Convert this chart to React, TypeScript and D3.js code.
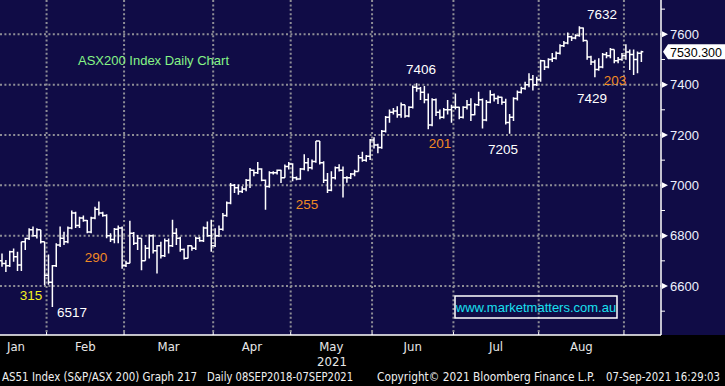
import React, { useEffect } from "react";
import * as d3 from "d3";

// [open, high, low, close] per trading day
type Bar = [number, number, number, number];

const monthNames = ["Jan", "Feb", "Mar", "Apr", "May", "Jun", "Jul", "Aug", "Sep"];

const jan: Bar[] = [
  [6700, 6729, 6676, 6689], [6689, 6703, 6656, 6680], [6680, 6740, 6675, 6736], [6736, 6749, 6696, 6716],
  [6716, 6736, 6660, 6683], [6683, 6776, 6660, 6776], [6776, 6792, 6743, 6789], [6789, 6829, 6783, 6823],
  [6823, 6836, 6796, 6800], [6800, 6829, 6789, 6823], [6823, 6823, 6769, 6776], [6776, 6776, 6603, 6643],
];
const feb: Bar[] = [
  [6643, 6725, 6605, 6615], [6615, 6683, 6517, 6680], [6680, 6770, 6675, 6763], [6763, 6836, 6755, 6790],
  [6790, 6816, 6763, 6776], [6776, 6836, 6770, 6830], [6830, 6900, 6825, 6890], [6890, 6895, 6830, 6840],
  [6840, 6875, 6830, 6870], [6870, 6880, 6855, 6860], [6860, 6862, 6810, 6815], [6815, 6875, 6810, 6870],
  [6870, 6915, 6865, 6905], [6905, 6936, 6880, 6890], [6890, 6895, 6875, 6880], [6880, 6885, 6790, 6800],
  [6800, 6810, 6775, 6785], [6785, 6830, 6770, 6825], [6825, 6840, 6770, 6830], [6830, 6836, 6669, 6680],
];
const mar: Bar[] = [
  [6680, 6700, 6675, 6690], [6690, 6859, 6690, 6810], [6810, 6815, 6763, 6770], [6770, 6803, 6743, 6790],
  [6790, 6790, 6663, 6700], [6700, 6763, 6700, 6750], [6750, 6805, 6709, 6800], [6800, 6805, 6729, 6740],
  [6740, 6763, 6650, 6760], [6760, 6776, 6709, 6720], [6720, 6789, 6715, 6780], [6780, 6789, 6729, 6760],
  [6760, 6863, 6755, 6810], [6810, 6829, 6763, 6790], [6790, 6796, 6736, 6745], [6745, 6749, 6705, 6710],
  [6710, 6763, 6709, 6760], [6760, 6760, 6740, 6750], [6750, 6796, 6743, 6790], [6790, 6796, 6776, 6780],
  [6780, 6836, 6775, 6830], [6830, 6856, 6796, 6800], [6800, 6863, 6736, 6760],
];
const apr: Bar[] = [
  [6760, 6829, 6755, 6800], [6800, 6840, 6795, 6825], [6825, 6890, 6820, 6880], [6880, 6936, 6875, 6930],
  [6930, 7009, 6925, 7000], [7000, 7005, 6969, 6990], [6990, 7003, 6963, 6975], [6975, 6996, 6969, 6985],
  [6985, 7025, 6976, 7020], [7020, 7069, 6989, 7060], [7060, 7063, 7036, 7050], [7050, 7093, 7045, 7065],
  [7065, 7068, 7016, 7020], [7020, 7023, 6903, 6995], [6995, 7056, 6990, 7050], [7050, 7056, 7043, 7050],
  [7050, 7063, 7043, 7060], [7060, 7062, 7009, 7030], [7030, 7083, 7030, 7075], [7075, 7093, 7063, 7085],
];
const may: Bar[] = [
  [7085, 7088, 7016, 7030], [7030, 7035, 7020, 7025], [7025, 7069, 7022, 7065], [7065, 7123, 7060, 7090],
  [7090, 7109, 7056, 7070], [7070, 7103, 7063, 7095], [7095, 7176, 7090, 7176], [7176, 7176, 7083, 7090],
  [7090, 7096, 7009, 7020], [7020, 7049, 6969, 6980], [6980, 7056, 6976, 7030], [7030, 7075, 7023, 7070],
  [7070, 7084, 7055, 7060], [7060, 7075, 6952, 7030], [7030, 7036, 7010, 7030], [7030, 7049, 7025, 7045],
  [7045, 7062, 7036, 7055], [7055, 7120, 7055, 7110], [7110, 7133, 7094, 7100], [7100, 7120, 7094, 7115],
  [7115, 7184, 7101, 7180],
];
const jun: Bar[] = [
  [7180, 7191, 7146, 7160], [7160, 7165, 7127, 7150], [7150, 7220, 7145, 7215], [7215, 7275, 7210, 7270],
  [7270, 7301, 7249, 7290], [7290, 7307, 7281, 7295], [7295, 7314, 7268, 7280], [7280, 7329, 7268, 7320],
  [7320, 7320, 7268, 7275], [7275, 7314, 7270, 7310], [7310, 7397, 7305, 7390], [7390, 7406, 7372, 7385],
  [7385, 7391, 7339, 7370], [7370, 7395, 7326, 7340], [7340, 7365, 7223, 7240], [7240, 7346, 7235, 7340],
  [7340, 7345, 7275, 7290], [7290, 7301, 7262, 7270], [7270, 7307, 7265, 7300], [7300, 7339, 7281, 7300],
  [7300, 7320, 7249, 7310],
];
const jul: Bar[] = [
  [7310, 7365, 7301, 7310], [7310, 7312, 7262, 7270], [7270, 7314, 7265, 7310], [7310, 7339, 7301, 7320],
  [7320, 7346, 7256, 7280], [7280, 7326, 7278, 7320], [7320, 7372, 7315, 7340], [7340, 7345, 7226, 7260],
  [7260, 7339, 7255, 7330], [7330, 7378, 7326, 7360], [7360, 7365, 7333, 7345], [7345, 7357, 7323, 7350],
  [7350, 7352, 7320, 7330], [7330, 7344, 7242, 7250], [7250, 7283, 7205, 7270], [7270, 7350, 7256, 7345],
  [7345, 7377, 7337, 7370], [7370, 7392, 7365, 7385], [7385, 7411, 7380, 7400], [7400, 7445, 7390, 7420],
  [7420, 7438, 7377, 7400], [7400, 7431, 7395, 7420],
];
const aug: Bar[] = [
  [7420, 7499, 7411, 7495], [7495, 7497, 7458, 7470], [7470, 7505, 7465, 7500], [7500, 7526, 7490, 7505],
  [7505, 7532, 7500, 7525], [7525, 7560, 7520, 7555], [7555, 7573, 7550, 7565], [7565, 7607, 7560, 7590],
  [7590, 7594, 7573, 7585], [7585, 7600, 7580, 7595], [7595, 7632, 7590, 7625], [7625, 7627, 7570, 7575],
  [7575, 7575, 7499, 7510], [7510, 7515, 7478, 7490], [7490, 7499, 7429, 7460], [7460, 7505, 7455, 7470],
  [7470, 7526, 7465, 7520], [7520, 7530, 7505, 7515], [7515, 7546, 7505, 7540], [7540, 7540, 7485, 7495],
  [7495, 7510, 7485, 7500], [7500, 7526, 7495, 7515],
];
const sep: Bar[] = [
  [7515, 7560, 7499, 7530], [7530, 7540, 7458, 7520], [7520, 7540, 7438, 7500], [7500, 7532, 7445, 7525],
  [7525, 7535, 7490, 7530.3],
];

const months = [jan, feb, mar, apr, may, jun, jul, aug, sep];
const lastPrice = 7530.3;
const majorTicks = [6600, 6800, 7000, 7200, 7400, 7600];
const minorTicks = [6500, 6700, 6900, 7100, 7300, 7500, 7700];

const W = 725;
const H = 386;
const plotRight = 661;
const plotBottom = 335;

const App = () => {
  useEffect(() => {
    document.body.style.margin = "0";
  }, []);

  const bars = months.flat();
  const starts: number[] = [];
  let acc = 0;
  months.forEach((m) => {
    starts.push(acc);
    acc += m.length;
  });

  const x = d3.scaleLinear().domain([0, bars.length - 1]).range([2, 2 + 3.875 * (bars.length - 1)]);
  const y = d3.scaleLinear().domain([6600, 7600]).range([286, 34.3]);
  const half = 1.95;

  let ohlc = "";
  bars.forEach(([o, h, l, c], i) => {
    const xi = x(i);
    ohlc += `M${xi},${y(h)}V${y(l)}M${xi - half},${y(o)}H${xi}M${xi},${y(c)}H${xi + half}`;
  });

  // boundaries between months (not the first)
  const bounds = starts.slice(1).map((s) => x(s - 0.5));
  const labelX = months.map((m, k) => {
    const a = k === 0 ? 0 : x(starts[k] - 0.5);
    const b = k === months.length - 1 ? plotRight : x(starts[k + 1] - 0.5);
    return (a + b) / 2;
  });

  const grey = "#8e8e96";
  const sans = "'Liberation Sans', Arial, sans-serif";
  const narrow = "'Liberation Sans Narrow', 'DejaVu Sans Condensed', 'Liberation Sans', sans-serif";
  const tagY = y(lastPrice);

  return (
    <svg width={W} height={H} style={{ position: "fixed", left: 0, top: 0, display: "block" }}>
      <rect x={0} y={0} width={W} height={H} fill="#000" />
      <rect x={0} y={0} width={W} height={plotBottom} fill="#100c46" />

      {/* grid */}
      {majorTicks.map((t) => (
        <line key={"h" + t} x1={0} x2={plotRight} y1={y(t)} y2={y(t)} stroke={grey} strokeWidth={2} strokeDasharray="2 2.4" />
      ))}
      {bounds.map((b, k) => (
        <line key={"v" + k} x1={b} x2={b} y1={0} y2={plotBottom} stroke={grey} strokeWidth={2} strokeDasharray="2 2.4" />
      ))}

      {/* bars */}
      <path d={ohlc} fill="none" stroke="#fff" strokeWidth={1.5} />

      {/* axes frame */}
      <line x1={plotRight} x2={plotRight} y1={0} y2={plotBottom} stroke="#fff" strokeWidth={1.5} />
      <line x1={0} x2={plotRight} y1={plotBottom} y2={plotBottom} stroke="#fff" strokeWidth={1.5} />
      {bounds.map((b, k) => (
        <line key={"xt" + k} x1={b} x2={b} y1={plotBottom - 3} y2={plotBottom} stroke="#fff" strokeWidth={1} />
      ))}
      {minorTicks.map((t) => (
        <line key={"mt" + t} x1={plotRight} x2={plotRight + 4} y1={y(t)} y2={y(t)} stroke="#fff" strokeWidth={1} />
      ))}
      {majorTicks.map((t) => (
        <g key={"yt" + t}>
          <path d={`M${plotRight + 1},${y(t) - 3}L${plotRight + 7},${y(t)}L${plotRight + 1},${y(t) + 3}Z`} fill="#fff" />
          <text x={670} y={y(t)} dy="0.36em" fill="#eef2ff" fontFamily={sans} fontSize={13}>
            {t}
          </text>
        </g>
      ))}

      {/* last price tag */}
      <path
        d={`M${plotRight + 2},${tagY}L${plotRight + 7},${tagY - 7.5}H${W}V${tagY + 7.5}H${plotRight + 7}Z`}
        fill="#fff"
      />
      <text x={670} y={tagY} dy="0.36em" fill="#000" fontFamily={sans} fontSize={13} textLength={52} lengthAdjust="spacingAndGlyphs">
        {lastPrice.toFixed(3)}
      </text>

      {/* x labels */}
      {monthNames.slice(0, 8).map((m, k) => (
        <text
          key={m}
          x={k === 0 ? 7 : labelX[k]}
          y={351}
          textAnchor={k === 0 ? "start" : "middle"}
          fill="#e8e8e8"
          fontFamily={narrow}
          fontSize={13}
        >
          {m}
        </text>
      ))}
      <text x={332} y={366} textAnchor="middle" fill="#e8e8e8" fontFamily={narrow} fontSize={13}>
        2021
      </text>

      {/* annotations */}
      <text x={78} y={65} fill="#86f486" fontFamily={sans} fontSize={13}>ASX200 Index Daily Chart</text>
      <g fill="#ffffff" fontFamily={sans} fontSize={13.5} textAnchor="middle">
        <text x={602} y={19}>7632</text>
        <text x={421} y={74}>7406</text>
        <text x={503} y={154}>7205</text>
        <text x={592} y={103}>7429</text>
        <text x={72} y={317}>6517</text>
      </g>
      <g fontFamily={sans} fontSize={13.5} textAnchor="middle">
        <text x={31} y={300} fill="#f4f020">315</text>
        <text x={96} y={262} fill="#f08a24">290</text>
        <text x={307} y={209} fill="#f08a24">255</text>
        <text x={440} y={148} fill="#f08a24">201</text>
        <text x={615} y={85} fill="#f08a24">203</text>
      </g>

      <rect x={455} y={296} width={162} height={22} fill="none" stroke="#fff" strokeWidth={1.5} />
      <text x={536} y={312} textAnchor="middle" fill="#19e0f0" fontFamily={sans} fontSize={13}>
        www.marketmatters.com.au
      </text>

      {/* footer */}
      <g fill="#f0f0f0" fontFamily={narrow} fontSize={11.5}>
        <text x={2} y={381} textLength={195} lengthAdjust="spacingAndGlyphs">AS51 Index (S&amp;P/ASX 200) Graph 217</text>
        <text x={207} y={381} textLength={146} lengthAdjust="spacingAndGlyphs">Daily 08SEP2018-07SEP2021</text>
        <text x={377} y={381} textLength={218} lengthAdjust="spacingAndGlyphs">Copyright© 2021 Bloomberg Finance L.P.</text>
        <text x={606} y={381} textLength={114} lengthAdjust="spacingAndGlyphs">07-Sep-2021 16:29:03</text>
      </g>
    </svg>
  );
};

export default App;
